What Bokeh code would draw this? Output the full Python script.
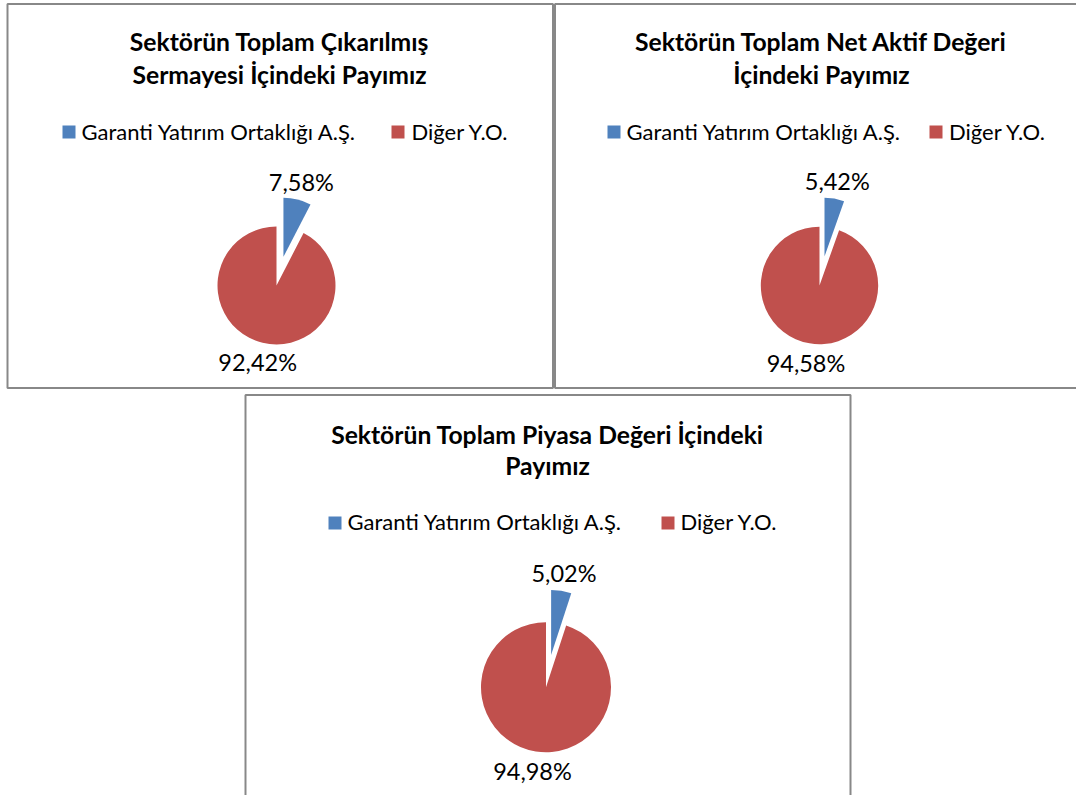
import math
from bokeh.plotting import figure
from bokeh.models import Range1d
from bokeh.core.properties import value
from bokeh.embed import file_html
from bokeh.resources import INLINE

# ---- data ----
titles = [
    ["Sektörün Toplam Çıkarılmış", "Sermayesi İçindeki Payımız"],
    ["Sektörün Toplam Net Aktif Değeri", "İçindeki Payımız"],
    ["Sektörün Toplam Piyasa Değeri İçindeki", "Payımız"],
]
categories = ["Garanti Yatırım Ortaklığı A.Ş.", "Diğer Y.O."]
garanti_share = [7.58, 5.42, 5.02]
diger_share = [92.42, 94.58, 94.98]
labels_garanti = ["7,58%", "5,42%", "5,02%"]
labels_diger = ["92,42%", "94,58%", "94,98%"]
colors = ["#4F81BD", "#C0504D"]

# ---- layout (pixel positions, top-left origin) ----
W, H = 1076, 795
panels = [
    dict(box=(7, 3.5, 552.5, 387.5), tx=279, tb=(51, 84), leg=(125, 138, 140), lx=(62, 81, 391, 411), pie=(276, 285, 59)),
    dict(box=(554.5, 3.5, 1082, 387.5), tx=821, tb=(51, 84), leg=(125, 138, 140), lx=(607, 626, 929, 948.5), pie=(819, 285, 58.7)),
    dict(box=(245, 394.5, 850, 802), tx=547, tb=(444, 475), leg=(516, 529, 530), lx=(328, 347, 661, 680), pie=(545.5, 686.7, 65)),
]

FONT = "Lato"
FS_TITLE = 24.7
FS_LEG = 22.0
FS_LAB = 23.5
SHIFT = 0.41  # empirical baseline correction (em)
label_gap = [17, 21]

def Y(v):
    return H - v

p = figure(width=W, height=H, x_range=Range1d(0, W), y_range=Range1d(0, H),
           x_axis_type=None, y_axis_type=None, min_border=0,
           toolbar_location=None, output_backend="svg",
           background_fill_color="white", border_fill_color="white")
p.outline_line_color = None
p.grid.visible = False

for i, pn in enumerate(panels):
    l, t, r, b = pn["box"]
    p.quad(left=[l], right=[r], top=[Y(t)], bottom=[Y(b)], fill_alpha=0,
           line_color="#888888", line_width=2)
    # title
    p.text(x=[pn["tx"]] * len(titles[i]),
           y=[Y(v) + SHIFT * FS_TITLE for v in pn["tb"][:len(titles[i])]],
           text=titles[i], text_align="center", text_baseline="alphabetic",
           text_font=value(FONT), text_font_style="bold",
           text_font_size=f"{FS_TITLE}px", text_color="black")
    # legend
    sq_top, sq_bot, base = pn["leg"]
    bx, btx, rx, rtx = pn["lx"]
    side = sq_bot - sq_top
    p.quad(left=[bx, rx], right=[bx + side, rx + side], top=[Y(sq_top)] * 2,
           bottom=[Y(sq_bot)] * 2, fill_color=colors, line_color=None)
    p.text(x=[btx, rtx], y=[Y(base) + SHIFT * FS_LEG] * 2, text=categories,
           text_align="left", text_baseline="alphabetic", text_font=value(FONT),
           text_font_size=f"{FS_LEG}px", text_color="black")
    # pie
    cx, cy, rad = pn["pie"]
    vals = [garanti_share[i], diger_share[i]]
    labs = [labels_garanti[i], labels_diger[i]]
    tot = sum(vals)
    explode = [0.5, 0.0]
    cum = 0.0
    for k, v in enumerate(vals):
        c0 = cum / tot
        cum += v
        c1 = cum / tot
        a0 = math.radians(90 - c1 * 360)
        a1 = math.radians(90 - c0 * 360)
        mid = (a0 + a1) / 2
        ex = explode[k] * rad
        wx = cx + ex * math.cos(mid)
        wy = Y(cy) + ex * math.sin(mid)
        p.wedge(x=[wx], y=[wy], radius=rad, start_angle=a0, end_angle=a1,
                fill_color=colors[k], line_color=None)
        dist = rad + ex + label_gap[k]
        lxp = cx + dist * math.cos(mid)
        lyp = Y(cy) + dist * math.sin(mid) - 0.36 * FS_LAB + SHIFT * FS_LAB
        p.text(x=[lxp], y=[lyp], text=[labs[k]], text_align="center",
               text_baseline="alphabetic", text_font=value(FONT),
               text_font_size=f"{FS_LAB}px", text_color="black")

open("out.html", "w").write(file_html(p, INLINE))
